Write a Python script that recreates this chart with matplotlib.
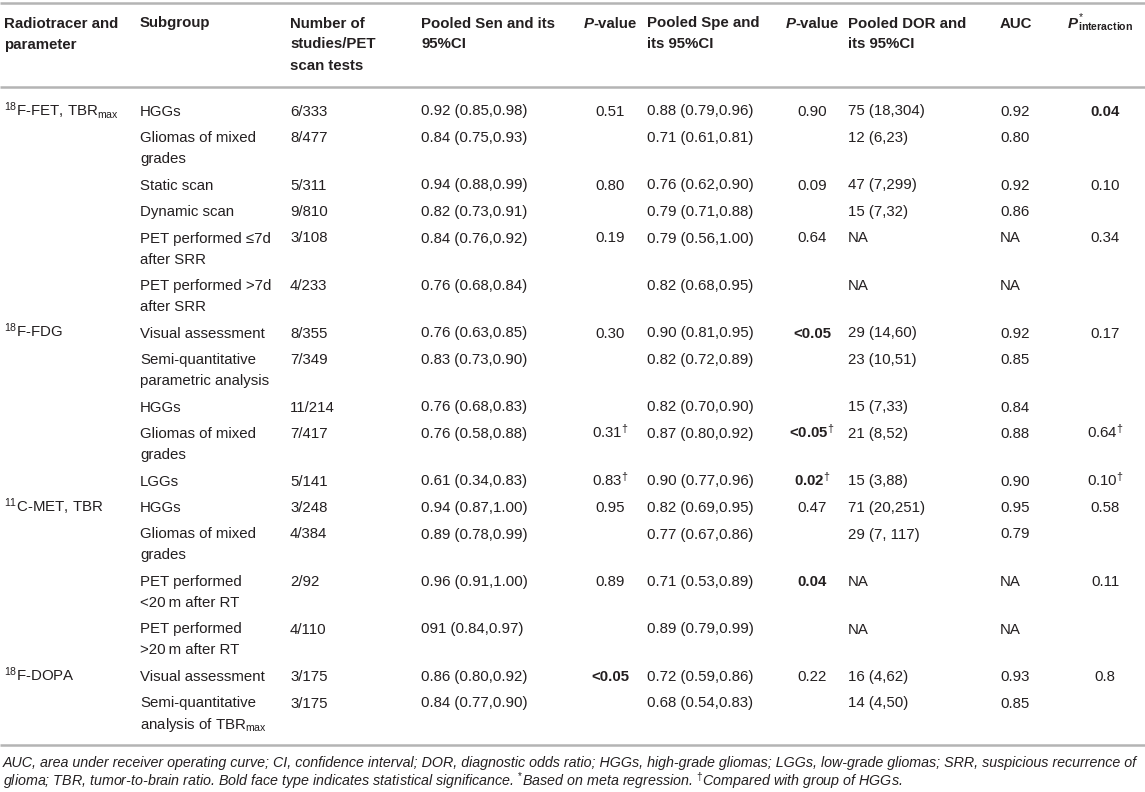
import matplotlib
matplotlib.use("Agg")
import matplotlib.pyplot as plt

plt.rcParams['font.family'] = ['Liberation Sans', 'DejaVu Sans']
plt.rcParams['mathtext.fontset'] = 'custom'
plt.rcParams['mathtext.rm'] = 'Liberation Sans'
plt.rcParams['mathtext.it'] = 'Liberation Sans:italic'
plt.rcParams['mathtext.bf'] = 'Liberation Sans:bold'

# ---- table content ----
tracers = ["$^{18}$F-FET, TBR$_{\\mathrm{max}}$", "$^{18}$F-FDG",
           "$^{11}$C-MET, TBR", "$^{18}$F-DOPA"]
tracer_rows = [0, 6, 11, 15]

subgroups = ["HGGs", "Gliomas of mixed\ngrades", "Static scan", "Dynamic scan",
             "PET performed \u22647d\nafter SRR", "PET performed >7d\nafter SRR",
             "Visual assessment", "Semi-quantitative\nparametric analysis", "HGGs",
             "Gliomas of mixed\ngrades", "LGGs",
             "HGGs", "Gliomas of mixed\ngrades", "PET performed\n<20\u2009m after RT",
             "PET performed\n>20\u2009m after RT",
             "Visual assessment", "Semi-quantitative\nanalysis of TBR$_{\\mathrm{max}}$"]
n_studies = ["6/333", "8/477", "5/311", "9/810", "3/108", "4/233",
             "8/355", "7/349", "11/214", "7/417", "5/141",
             "3/248", "4/384", "2/92", "4/110", "3/175", "3/175"]
sen = ["0.92 (0.85,0.98)", "0.84 (0.75,0.93)", "0.94 (0.88,0.99)", "0.82 (0.73,0.91)",
       "0.84 (0.76,0.92)", "0.76 (0.68,0.84)", "0.76 (0.63,0.85)", "0.83 (0.73,0.90)",
       "0.76 (0.68,0.83)", "0.76 (0.58,0.88)", "0.61 (0.34,0.83)", "0.94 (0.87,1.00)",
       "0.89 (0.78,0.99)", "0.96 (0.91,1.00)", "091 (0.84,0.97)", "0.86 (0.80,0.92)",
       "0.84 (0.77,0.90)"]
p_sen = ["0.51", "", "0.80", "", "0.19", "", "0.30", "", "", "0.31$^{\u2020}$",
         "0.83$^{\u2020}$", "0.95", "", "0.89", "", "<0.05", ""]
spe = ["0.88 (0.79,0.96)", "0.71 (0.61,0.81)", "0.76 (0.62,0.90)", "0.79 (0.71,0.88)",
       "0.79 (0.56,1.00)", "0.82 (0.68,0.95)", "0.90 (0.81,0.95)", "0.82 (0.72,0.89)",
       "0.82 (0.70,0.90)", "0.87 (0.80,0.92)", "0.90 (0.77,0.96)", "0.82 (0.69,0.95)",
       "0.77 (0.67,0.86)", "0.71 (0.53,0.89)", "0.89 (0.79,0.99)", "0.72 (0.59,0.86)",
       "0.68 (0.54,0.83)"]
p_spe = ["0.90", "", "0.09", "", "0.64", "", "<0.05", "", "", "<0.05$^{\u2020}$",
         "0.02$^{\u2020}$", "0.47", "", "0.04", "", "0.22", ""]
dor = ["75 (18,304)", "12 (6,23)", "47 (7,299)", "15 (7,32)", "NA", "NA",
       "29 (14,60)", "23 (10,51)", "15 (7,33)", "21 (8,52)", "15 (3,88)",
       "71 (20,251)", "29 (7, 117)", "NA", "NA", "16 (4,62)", "14 (4,50)"]
auc = ["0.92", "0.80", "0.92", "0.86", "NA", "NA", "0.92", "0.85", "0.84", "0.88",
       "0.90", "0.95", "0.79", "NA", "NA", "0.93", "0.85"]
p_int = ["0.04", "", "0.10", "", "0.34", "", "0.17", "", "", "0.64$^{\u2020}$",
         "0.10$^{\u2020}$", "0.58", "", "0.11", "", "0.8", ""]

bold_p_sen = [15]
bold_p_spe = [6, 9, 10, 13]
bold_p_int = [0]

footnote1 = ("AUC, area under receiver operating curve; CI, confidence interval; DOR, "
             "diagnostic odds ratio; HGGs, high-grade gliomas; LGGs, low-grade gliomas; "
             "SRR, suspicious recurrence of")
footnote2 = ("glioma; TBR, tumor-to-brain ratio. Bold face type indicates statistical "
             "significance. $^{*}$Based on meta regression. $^{\u2020}$Compared with group of HGGs.")

# ---- layout ----
W, H = 1145, 792
fs = 10.8
ink = '#231f20'
rule = '#b4b4b4'

fig = plt.figure(figsize=(W / 100, H / 100), dpi=100)
ax = fig.add_axes([0, 0, 1, 1])
ax.set_xlim(0, W)
ax.set_ylim(H, 0)
ax.axis('off')
renderer = fig.canvas.get_renderer()

col_x = [4, 140, 290, 421, 610, 647, 812, 848, 1000, 1105]
base_off = 5.5
line_h = 21


def runs(x, y, parts, ha='left'):
    # draw text pieces one after another on a common baseline
    arts = []
    for s, props in parts:
        t = ax.text(0, y + base_off, s, va='baseline', ha='left', color=ink,
                    fontsize=props.pop('fontsize', fs), **props)
        arts.append(t)
    widths = [t.get_window_extent(renderer).width for t in arts]
    total = sum(widths)
    cx = x - total / 2 if ha == 'center' else x
    for t, w in zip(arts, widths):
        t.set_x(cx)
        cx += w


def cell(x, y, s, ha='left', bold=False):
    for i, line in enumerate(s.split('\n')):
        ax.text(x, y + i * line_h + base_off, line, ha=ha, va='baseline', color=ink,
                fontsize=fs, fontweight='bold' if bold else 'normal')


# rules
for yy in [3, 87, 745]:
    ax.plot([0, W], [yy, yy], color=rule, lw=1.8, solid_capstyle='butt')

# header
hy = [22, 43, 65]
headers = {0: "Radiotracer and\nparameter", 1: "Subgroup", 2: "Number of\nstudies/PET\nscan tests",
           3: "Pooled Sen and its\n95%CI", 5: "Pooled Spe and\nits 95%CI",
           7: "Pooled DOR and\nits 95%CI", 8: "AUC"}
for c, txt in headers.items():
    for i, line in enumerate(txt.split('\n')):
        ax.text(col_x[c], hy[i] + base_off, line, ha='left', va='baseline', color=ink,
                fontsize=fs, fontweight='bold')
for c in (4, 6):
    runs(col_x[c], hy[0], [("P", dict(fontweight='bold', fontstyle='italic')),
                           ("-value", dict(fontweight='bold'))], ha='center')
runs(1068, hy[0], [("P", dict(fontweight='bold', fontstyle='italic')),
                   ("$^{*}_{\\mathbf{interaction}}$", dict())])

# rows
row_y = []
y = 110
for s in subgroups:
    row_y.append(y)
    y += 26.5 + line_h * s.count('\n')

for k, r in enumerate(tracer_rows):
    cell(col_x[0], row_y[r], tracers[k])

for i in range(len(subgroups)):
    yy = row_y[i]
    cell(col_x[1], yy, subgroups[i])
    cell(col_x[2], yy, n_studies[i])
    cell(col_x[3], yy, sen[i])
    cell(col_x[4], yy, p_sen[i], ha='center', bold=i in bold_p_sen)
    cell(col_x[5], yy, spe[i])
    cell(col_x[6], yy, p_spe[i], ha='center', bold=i in bold_p_spe)
    cell(col_x[7], yy, dor[i])
    cell(col_x[8], yy, auc[i])
    cell(col_x[9], yy, p_int[i], ha='center', bold=i in bold_p_int)

# footnote, sized so the first line spans the table width
ft = ax.text(3, 762 + 4.5, footnote1, ha='left', va='baseline', color=ink,
             fontsize=9, fontstyle='italic')
wfit = ft.get_window_extent(renderer).width
ffs = 9 * (W - 8) / wfit
ft.set_fontsize(ffs)
ax.text(3, 781 + 4.5, footnote2, ha='left', va='baseline', color=ink,
        fontsize=ffs, fontstyle='italic')

fig.savefig('out.png', dpi=100)
